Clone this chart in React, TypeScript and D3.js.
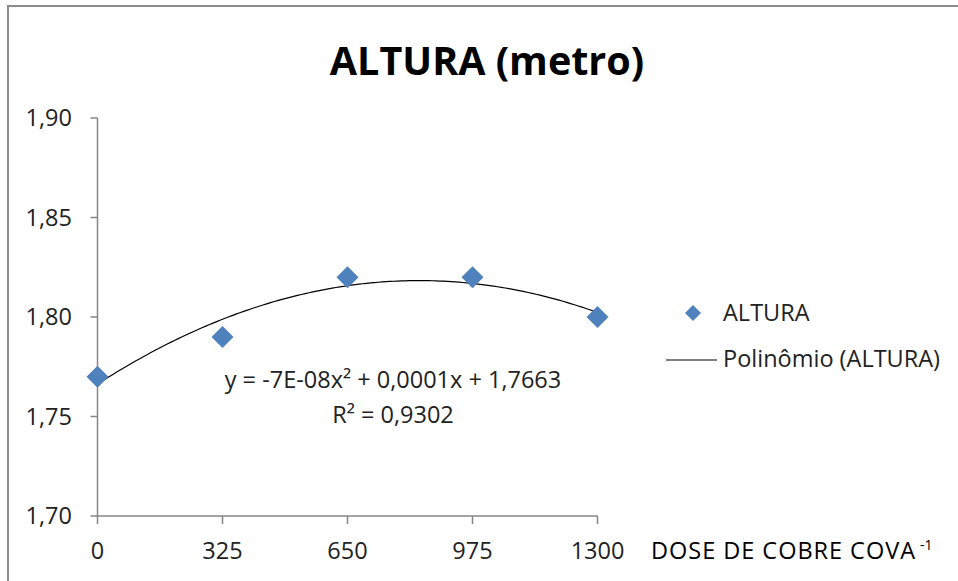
import React from "react";
import * as d3 from "d3";

// Copper dose per planting hole and measured plant height (m)
const doses = [0, 325, 650, 975, 1300];
const heights = [1.77, 1.79, 1.82, 1.82, 1.8];
const xTicks = [0, 325, 650, 975, 1300];
const yTicks = [1.7, 1.75, 1.8, 1.85, 1.9];

const title = "ALTURA (metro)";
const seriesName = "ALTURA";
const trendName = "Polinômio (ALTURA)";
const xAxisTitle = "DOSE DE COBRE COVA";
const equationText = "y = -7E-08x² + 0,0001x + 1,7663";
const r2Text = "R² = 0,9302";

const W = 958;
const H = 581;
const FONT = "'Open Sans', 'Noto Sans', sans-serif";
const AXIS = "#868686";
const BLUE = "#4F81BD";
const FS = 23.5;

// Least-squares quadratic fit y = a x² + b x + c
function quadFit(xs: number[], ys: number[]) {
  const n = xs.length;
  let s1 = 0, s2 = 0, s3 = 0, s4 = 0, t0 = 0, t1 = 0, t2 = 0;
  for (let i = 0; i < n; i++) {
    const x = xs[i], y = ys[i];
    s1 += x; s2 += x * x; s3 += x ** 3; s4 += x ** 4;
    t0 += y; t1 += x * y; t2 += x * x * y;
  }
  const M = [
    [s4, s3, s2, t2],
    [s3, s2, s1, t1],
    [s2, s1, n, t0],
  ];
  for (let i = 0; i < 3; i++) {
    let p = i;
    for (let r = i + 1; r < 3; r++) if (Math.abs(M[r][i]) > Math.abs(M[p][i])) p = r;
    [M[i], M[p]] = [M[p], M[i]];
    for (let r = 0; r < 3; r++) {
      if (r === i) continue;
      const f = M[r][i] / M[i][i];
      for (let c = i; c < 4; c++) M[r][c] -= f * M[i][c];
    }
  }
  return { a: M[0][3] / M[0][0], b: M[1][3] / M[1][1], c: M[2][3] / M[2][2] };
}

export default function App() {
  const x = d3.scaleLinear().domain([0, 1300]).range([97.5, 597.5]);
  const y = d3.scaleLinear().domain([1.7, 1.9]).range([516, 118]);

  const { a, b, c } = quadFit(doses, heights);
  const curvePts = d3.range(0, 1300.001, 10).map((d) => [d, a * d * d + b * d + c] as [number, number]);
  const line = d3
    .line<[number, number]>()
    .x((d) => x(d[0]))
    .y((d) => y(d[1]))
    .curve(d3.curveLinear);

  const diamond = (cx: number, cy: number, r: number) =>
    `M${cx},${cy - r}L${cx + r},${cy}L${cx},${cy + r}L${cx - r},${cy}Z`;

  return (
    <svg
      width={W}
      height={H}
      style={{ position: "absolute", left: 0, top: 0, background: "#fff" }}
      fontFamily={FONT}
    >
      <rect x={8} y={6} width={980} height={600} fill="#fff" stroke="#8c8c8c" strokeWidth={2} />

      <text x={487} y={75} textAnchor="middle" fontSize={39.5} fontWeight="bold" fill="#000">
        {title}
      </text>

      {/* y axis */}
      <line x1={x(0)} x2={x(0)} y1={y(1.9)} y2={y(1.7)} stroke={AXIS} strokeWidth={1.5} />
      {yTicks.map((t) => (
        <g key={t}>
          <line x1={x(0) - 7} x2={x(0)} y1={y(t)} y2={y(t)} stroke={AXIS} strokeWidth={1.5} />
          <text x={72} y={y(t) + 8} textAnchor="end" fontSize={FS} fill="#222">
            {t.toFixed(2).replace(".", ",")}
          </text>
        </g>
      ))}

      {/* x axis */}
      <line x1={x(0)} x2={x(1300)} y1={y(1.7)} y2={y(1.7)} stroke={AXIS} strokeWidth={1.5} />
      {xTicks.map((t) => (
        <g key={t}>
          <line x1={x(t)} x2={x(t)} y1={y(1.7)} y2={y(1.7) + 8} stroke={AXIS} strokeWidth={1.5} />
          <text x={x(t)} y={559} textAnchor="middle" fontSize={FS} fill="#222">
            {t}
          </text>
        </g>
      ))}
      <text x={651} y={559} fontSize={FS} fill="#000" textLength={264} lengthAdjust="spacing">
        {xAxisTitle}
      </text>
      <text x={920} y={550} fontSize={14} fill="#000">
        -1
      </text>

      {/* trendline */}
      <path d={line(curvePts) ?? ""} fill="none" stroke="#000" strokeWidth={1.2} />

      {/* observations */}
      {doses.map((d, i) => (
        <path key={d} d={diamond(x(d), y(heights[i]), 11)} fill={BLUE} />
      ))}

      {/* trendline equation */}
      <text x={393} y={388} textAnchor="middle" fontSize={FS} fill="#222">
        {equationText}
      </text>
      <text x={393} y={423} textAnchor="middle" fontSize={FS} fill="#222">
        {r2Text}
      </text>

      {/* legend */}
      <path d={diamond(693, 313, 8)} fill={BLUE} />
      <text x={723} y={321} fontSize={FS} fill="#222">
        {seriesName}
      </text>
      <line x1={666} x2={717} y1={360} y2={360} stroke="#000" strokeWidth={1.2} />
      <text x={723} y={367} fontSize={FS} fill="#222">
        {trendName}
      </text>
    </svg>
  );
}
